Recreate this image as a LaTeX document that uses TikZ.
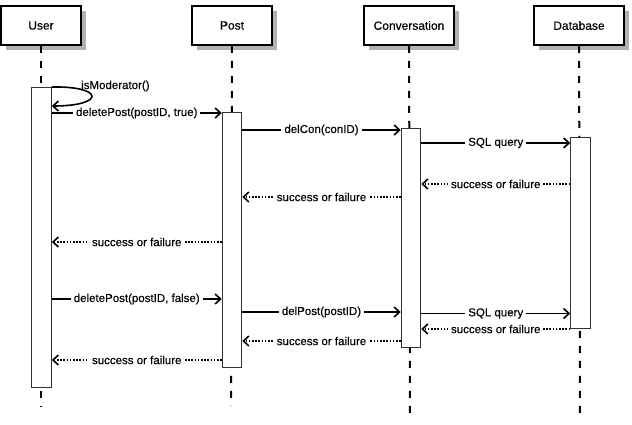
\documentclass[tikz,border=0pt]{standalone}
\usepackage{fontspec}
\setmainfont[UprightFeatures={FakeBold=0.4}]{Liberation Sans}
\usepackage{tikz}
\usetikzlibrary{arrows.meta,shadows}

\tikzset{
  actor/.style={draw, line width=1.6pt, fill=white, minimum width=80pt, minimum height=39pt,
    font=\fontsize{12}{14}\selectfont,
    drop shadow={shadow xshift=5pt, shadow yshift=-5pt, fill=black!30, opacity=1}},
  bar/.style={draw=black!80, line width=1pt, fill=white, minimum width=19.5pt, inner sep=0pt, anchor=north},
  lifeline/.style={line width=2pt, dash pattern=on 7pt off 8pt},
  call/.style={line width=1.6pt, -{Straight Barb[length=5.5pt,width=10pt]}},
  reply/.style={line width=1.6pt, dash pattern=on 1.6pt off 1.6pt, -{Straight Barb[length=5.5pt,width=10pt]}},
  lbl/.style={midway, fill=white, inner xsep=3pt, inner ysep=1pt, font=\fontsize{11.5}{13}\selectfont}
}

\begin{document}
\begin{tikzpicture}[x=1pt, y=-1pt]
\useasboundingbox (0,0) rectangle (632,424);
% participants
\node[actor] (user) at (41,25.5) {User};
\node[actor] (post) at (232,25.5) {Post};
\node[actor, minimum width=90pt] (conv) at (409,25.5) {Conversation};
\node[actor, minimum width=90pt] (db) at (579,25.5) {Database};
% lifelines
\coordinate (userend) at (41,406);
\coordinate (postend) at (231,406);
\coordinate (convend) at (410,420);
\coordinate (dbend) at (580,420);
\draw[lifeline] (user) -- (userend);
\draw[lifeline] (post) -- (postend);
\draw[lifeline] (conv) -- (convend);
\draw[lifeline] (db) -- (dbend);
% activation bars
\node[bar, minimum height=300pt] (userbar) at (41.5,87) {};
\node[bar, minimum height=255pt] (postbar) at (232,112) {};
\node[bar, minimum height=219pt] (convbar) at (411,128) {};
\node[bar, minimum height=191pt] (dbbar) at (580.5,137) {};
% self call
\draw[call] (userbar.north east) .. controls (105,86) and (105,106) .. (userbar.east |- 0,106);
\node[anchor=west, inner sep=1pt, font=\fontsize{11.5}{13}\selectfont] (ismod) at (80,86) {isModerator()};
% first case
\draw[call] (userbar.east |- 0,113) -- (postbar.west |- 0,113) node[lbl] (m1) {deletePost(postID, true)};
\draw[call] (postbar.east |- 0,130) -- (convbar.west |- 0,130) node[lbl] (m2) {delCon(conID)};
\draw[call] (convbar.east |- 0,143) -- (dbbar.west |- 0,143) node[lbl] (m3) {SQL query};
\draw[reply] (dbbar.west |- 0,184) -- (convbar.east |- 0,184) node[lbl] (r3) {success or failure};
\draw[reply] (convbar.west |- 0,197) -- (postbar.east |- 0,197) node[lbl] (r2) {success or failure};
\draw[reply] (postbar.west |- 0,242) -- (userbar.east |- 0,242) node[lbl] (r1) {success or failure};
% second case
\draw[call] (userbar.east |- 0,299) -- (postbar.west |- 0,299) node[lbl] (m4) {deletePost(postID, false)};
\draw[call] (postbar.east |- 0,312) -- (convbar.west |- 0,312) node[lbl] (m5) {delPost(postID)};
\draw[call] (convbar.east |- 0,313.5) -- (dbbar.west |- 0,313.5) node[lbl] (m6) {SQL query};
\draw[reply] (dbbar.west |- 0,329) -- (convbar.east |- 0,329) node[lbl] (r6) {success or failure};
\draw[reply] (convbar.west |- 0,341) -- (postbar.east |- 0,341) node[lbl] (r5) {success or failure};
\draw[reply] (postbar.west |- 0,360) -- (userbar.east |- 0,360) node[lbl] (r4) {success or failure};
\end{tikzpicture}
\end{document}
